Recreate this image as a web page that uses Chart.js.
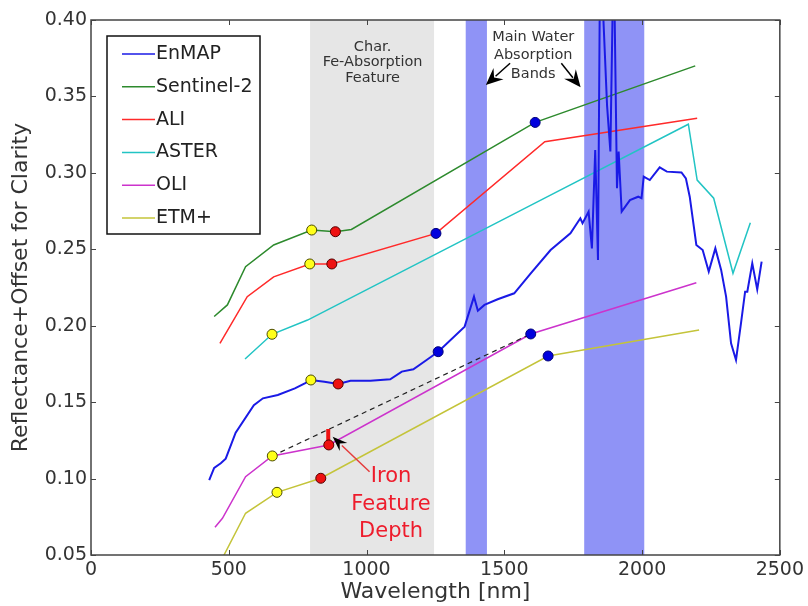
<!DOCTYPE html>
<html>
<head>
<meta charset="utf-8">
<script src="https://cdn.jsdelivr.net/npm/chart.js@4.4.1/dist/chart.umd.min.js"></script>
<style>
  html, body { margin: 0; padding: 0; background: #ffffff; }
  #wrap { width: 808px; height: 606px; }
</style>
</head>
<body>
<div id="wrap"><canvas id="c" width="808" height="606"></canvas></div>
<script>
// ---------------- DATA ----------------
const seriesNames = ['EnMAP', 'Sentinel-2', 'ALI', 'ASTER', 'OLI', 'ETM+'];

const enmapWl  = [429, 447, 471, 489, 525, 591, 624, 678, 740, 776, 798, 847, 897, 942, 1014, 1086, 1128, 1170, 1218, 1260,
                  1356, 1390, 1404, 1428, 1476, 1536, 1596, 1668, 1740, 1776, 1784, 1806, 1818, 1830, 1840, 1848, 1873, 1885,
                  1897, 1909, 1915, 1926, 1956, 1986, 1998, 2006, 2028, 2064, 2090, 2143, 2159, 2173, 2197, 2220, 2242, 2266,
                  2287, 2305, 2323, 2341, 2359, 2374, 2382, 2400, 2418, 2434];
const enmapVal = [0.099, 0.107, 0.110, 0.113, 0.130, 0.148, 0.1525, 0.1547, 0.159, 0.1623, 0.1645, 0.1634, 0.1619, 0.164, 0.164, 0.165, 0.170, 0.1715, 0.1776, 0.183,
                  0.1994, 0.219, 0.2098, 0.2136, 0.2173, 0.2212, 0.2343, 0.2495, 0.2604, 0.2703, 0.267, 0.2746, 0.2506, 0.315, 0.243, 0.45, 0.344, 0.314,
                  0.45, 0.290, 0.314, 0.2746, 0.2822, 0.2844, 0.2834, 0.2975, 0.2953, 0.3036, 0.3008, 0.3003, 0.2964, 0.2844, 0.2528, 0.2495, 0.2354, 0.2506,
                  0.2365, 0.219, 0.1885, 0.1776, 0.2016, 0.2223, 0.2223, 0.2408, 0.2238, 0.2419];

const sentinelWl  = [447, 495, 561, 663, 801, 887, 945, 1612, 2193];
const sentinelVal = [0.206, 0.2136, 0.2386, 0.2528, 0.2626, 0.2615, 0.263, 0.333, 0.370];

const aliWl  = [468, 567, 663, 794, 874, 1252, 1647, 2200];
const aliVal = [0.1885, 0.219, 0.232, 0.2404, 0.2404, 0.2604, 0.3204, 0.3357];

const asterWl  = [559, 657, 786, 1650, 2168, 2200, 2260, 2330, 2393];
const asterVal = [0.1782, 0.1944, 0.2037, 0.2838, 0.3318, 0.2953, 0.2834, 0.2343, 0.2674];

const oliWl  = [450, 477, 561, 658, 863, 1596, 2197];
const oliVal = [0.0681, 0.074, 0.1012, 0.1148, 0.122, 0.1946, 0.2281];

const etmWl  = [480, 561, 675, 834, 1659, 2207];
const etmVal = [0.049, 0.0773, 0.091, 0.1002, 0.1802, 0.1972];

// feature markers
const yellowWl  = [801, 794, 657, 798, 658, 675];
const yellowVal = [0.2626, 0.2404, 0.1944, 0.1645, 0.1148, 0.091];
const redWl  = [887, 874, 897, 863, 834];
const redVal = [0.2615, 0.2404, 0.1619, 0.122, 0.1002];
const blueWl  = [1612, 1252, 1260, 1596, 1659];
const blueVal = [0.333, 0.2604, 0.183, 0.1946, 0.1802];

// continuum line and iron feature depth bar (OLI)
const continuumWl  = [658, 1596];
const continuumVal = [0.1148, 0.1946];
const ironBarWl  = [861, 861];
const ironBarVal = [0.1228, 0.1325];

// shaded regions [start, end] in nm
const feBand = [795, 1245];
const waterBands = [[1360, 1437], [1790, 2008]];

// axis ticks
const xTickValues = [0, 500, 1000, 1500, 2000, 2500];
const yTickValues = [0.05, 0.10, 0.15, 0.20, 0.25, 0.30, 0.35, 0.40];

// annotation texts (data coordinates)
const charLines  = ['Char.', 'Fe-Absorption', 'Feature'];
const charPos    = {x: 1022, y: [0.3820, 0.3725, 0.3621]};
const waterLines = ['Main Water', 'Absorption', 'Bands'];
const waterPos   = {x: 1605, y: [0.3889, 0.3771, 0.3647]};
const ironLines  = ['Iron', 'Feature', 'Depth'];
const ironPos    = {x: 1089, y: [0.1012, 0.0827, 0.0653]};
const waterArrows = [ {from: [1521, 0.3717], to: [1433, 0.3575]}, {from: [1707, 0.3717], to: [1777, 0.3560]} ];
const ironArrow = {from: [1011, 0.1045], to: [877, 0.1274]};

// ---------------- STYLE ----------------
const colors = ['#1a1ae6', '#2d8a2d', '#ff2a2a', '#22c4c4', '#cc33cc', '#c4c43a'];
const widths = [2, 1.5, 1.5, 1.5, 1.5, 1.5];
const FONT = "'DejaVu Sans', 'Liberation Sans', sans-serif";

const zip = (xs, ys) => xs.map((v, i) => ({x: v, y: ys[i]}));
const lineSeries = [
  zip(enmapWl, enmapVal), zip(sentinelWl, sentinelVal), zip(aliWl, aliVal),
  zip(asterWl, asterVal), zip(oliWl, oliVal), zip(etmWl, etmVal)
];

const datasets = [];
function markerSet(xs, ys, fill, border) {
  return {data: zip(xs, ys), showLine: false, pointRadius: 5, pointBackgroundColor: fill,
          pointBorderColor: border, pointBorderWidth: 1, order: 0, label: ''};
}
datasets.push(markerSet(yellowWl, yellowVal, '#ffff1a', '#4a4a00'));
datasets.push(markerSet(redWl, redVal, '#ee1111', '#550000'));
datasets.push(markerSet(blueWl, blueVal, '#0000dd', '#000077'));
datasets.push({data: zip(ironBarWl, ironBarVal), showLine: true, pointRadius: 0, borderColor: '#ee1111',
               borderWidth: 4, order: 1, label: ''});
datasets.push({data: zip(continuumWl, continuumVal), showLine: true, pointRadius: 0, borderColor: '#222222',
               borderWidth: 1.2, borderDash: [5, 4], order: 2, label: ''});
lineSeries.forEach((d, i) => {
  datasets.push({label: seriesNames[i], data: d, showLine: true, pointRadius: 0, borderColor: colors[i],
                 borderWidth: widths[i], tension: 0, order: 3 + i});
});

// ---------------- PLUGINS ----------------
const bandsPlugin = {
  id: 'bands',
  beforeDatasetsDraw(chart) {
    const {ctx, chartArea: {top, bottom}, scales: {x}} = chart;
    ctx.save();
    ctx.fillStyle = '#e6e6e6';
    const f0 = x.getPixelForValue(feBand[0]), f1 = x.getPixelForValue(feBand[1]);
    ctx.fillRect(f0, top, f1 - f0, bottom - top);
    ctx.fillStyle = '#8f93f6';
    waterBands.forEach(b => {
      const a = x.getPixelForValue(b[0]), c = x.getPixelForValue(b[1]);
      ctx.fillRect(a, top, c - a, bottom - top);
    });
    ctx.restore();
  }
};

function arrowHead(ctx, x1, y1, x2, y2, len, wid, color) {
  const dx = x2 - x1, dy = y2 - y1, L = Math.hypot(dx, dy);
  const ux = dx / L, uy = dy / L, px = -uy, py = ux;
  const bx = x2 - ux * len, by = y2 - uy * len;
  const nx = x2 - ux * len * 0.65, ny = y2 - uy * len * 0.65;
  ctx.fillStyle = color;
  ctx.beginPath();
  ctx.moveTo(x2, y2);
  ctx.lineTo(bx + px * wid / 2, by + py * wid / 2);
  ctx.lineTo(nx, ny);
  ctx.lineTo(bx - px * wid / 2, by - py * wid / 2);
  ctx.closePath();
  ctx.fill();
}

const framePlugin = {
  id: 'frame',
  afterDatasetsDraw(chart) {
    const {ctx, chartArea: {left, right, top, bottom}, scales: {x, y}} = chart;
    ctx.save();
    // annotations
    const P = (wl, v) => [x.getPixelForValue(wl), y.getPixelForValue(v)];
    ctx.textAlign = 'center';
    ctx.textBaseline = 'middle';
    ctx.fillStyle = '#333333';
    ctx.font = '14.5px ' + FONT;
    charLines.forEach((t, i) => ctx.fillText(t, x.getPixelForValue(charPos.x), y.getPixelForValue(charPos.y[i])));
    waterLines.forEach((t, i) => ctx.fillText(t, x.getPixelForValue(waterPos.x), y.getPixelForValue(waterPos.y[i])));
    waterArrows.forEach(a => {
      const [x1, y1] = P(a.from[0], a.from[1]);
      const [x2, y2] = P(a.to[0], a.to[1]);
      ctx.strokeStyle = '#000';
      ctx.lineWidth = 1.5;
      ctx.beginPath(); ctx.moveTo(x1, y1); ctx.lineTo(x2 + (x1 - x2) * 0.4, y2 + (y1 - y2) * 0.4); ctx.stroke();
      arrowHead(ctx, x1, y1, x2, y2, 17, 15, '#000');
    });
    // iron arrow
    {
      const [x1, y1] = P(ironArrow.from[0], ironArrow.from[1]);
      const [x2, y2] = P(ironArrow.to[0], ironArrow.to[1]);
      ctx.strokeStyle = '#e43c3c';
      ctx.lineWidth = 1.5;
      ctx.beginPath(); ctx.moveTo(x1, y1); ctx.lineTo(x2 + (x1 - x2) * 0.25, y2 + (y1 - y2) * 0.25); ctx.stroke();
      arrowHead(ctx, x1, y1, x2, y2, 15, 11, '#000');
    }
    ctx.fillStyle = '#ee1c2c';
    ctx.font = '21px ' + FONT;
    ironLines.forEach((t, i) => ctx.fillText(t, x.getPixelForValue(ironPos.x), y.getPixelForValue(ironPos.y[i])));

    // frame with inward ticks
    ctx.strokeStyle = '#444444';
    ctx.lineWidth = 1.5;
    ctx.strokeRect(left, top, right - left, bottom - top);
    ctx.lineWidth = 1;
    ctx.beginPath();
    xTickValues.forEach(v => {
      const px = Math.round(x.getPixelForValue(v)) + 0.5;
      ctx.moveTo(px, bottom); ctx.lineTo(px, bottom - 5);
      ctx.moveTo(px, top); ctx.lineTo(px, top + 5);
    });
    yTickValues.forEach(v => {
      const py = Math.round(y.getPixelForValue(v)) + 0.5;
      ctx.moveTo(left, py); ctx.lineTo(left + 5, py);
      ctx.moveTo(right, py); ctx.lineTo(right - 5, py);
    });
    ctx.stroke();

    // legend box
    const lx = 107, ly = 36, lw = 153, lh = 198;
    ctx.fillStyle = '#ffffff';
    ctx.fillRect(lx, ly, lw, lh);
    ctx.strokeStyle = '#111111';
    ctx.lineWidth = 1.5;
    ctx.strokeRect(lx, ly, lw, lh);
    ctx.font = '19px ' + FONT;
    ctx.textAlign = 'left';
    ctx.textBaseline = 'middle';
    seriesNames.forEach((n, i) => {
      const ry = 54 + i * 32.8;
      ctx.strokeStyle = colors[i];
      ctx.lineWidth = 1.5;
      ctx.beginPath(); ctx.moveTo(122, ry); ctx.lineTo(155, ry); ctx.stroke();
      ctx.fillStyle = '#222222';
      ctx.fillText(n, 156, ry);
    });
    ctx.restore();
  }
};

// ---------------- CHART ----------------
new Chart(document.getElementById('c'), {
  type: 'scatter',
  data: {datasets},
  options: {
    responsive: false,
    animation: false,
    events: [],
    layout: {padding: {top: 20, right: 26, left: 0, bottom: 0}},
    plugins: {legend: {display: false}, tooltip: {enabled: false}},
    scales: {
      x: {
        type: 'linear', min: 0, max: 2500,
        afterFit: s => { s.height = 51; },
        afterBuildTicks: s => { s.ticks = xTickValues.map(v => ({value: v})); },
        grid: {display: false, drawTicks: false},
        border: {display: false},
        ticks: {color: '#333333', font: {family: FONT, size: 19}, padding: 4, maxRotation: 0,
                callback: v => String(v)},
        title: {display: true, text: 'Wavelength [nm]', color: '#333333',
                font: {family: FONT, size: 22, lineHeight: 1.2}, padding: {top: 0, bottom: 1}}
      },
      y: {
        type: 'linear', min: 0.05, max: 0.40,
        afterFit: s => { s.width = 91; },
        afterBuildTicks: s => { s.ticks = yTickValues.map(v => ({value: v})); },
        grid: {display: false, drawTicks: false},
        border: {display: false},
        ticks: {color: '#333333', font: {family: FONT, size: 19}, padding: 4,
                callback: v => Number(v).toFixed(2)},
        title: {display: true, text: 'Reflectance+Offset for Clarity', color: '#333333',
                font: {family: FONT, size: 22, lineHeight: 1.2}, padding: {top: 8, bottom: 0}}
      }
    }
  },
  plugins: [bandsPlugin, framePlugin]
});
</script>
</body>
</html>
